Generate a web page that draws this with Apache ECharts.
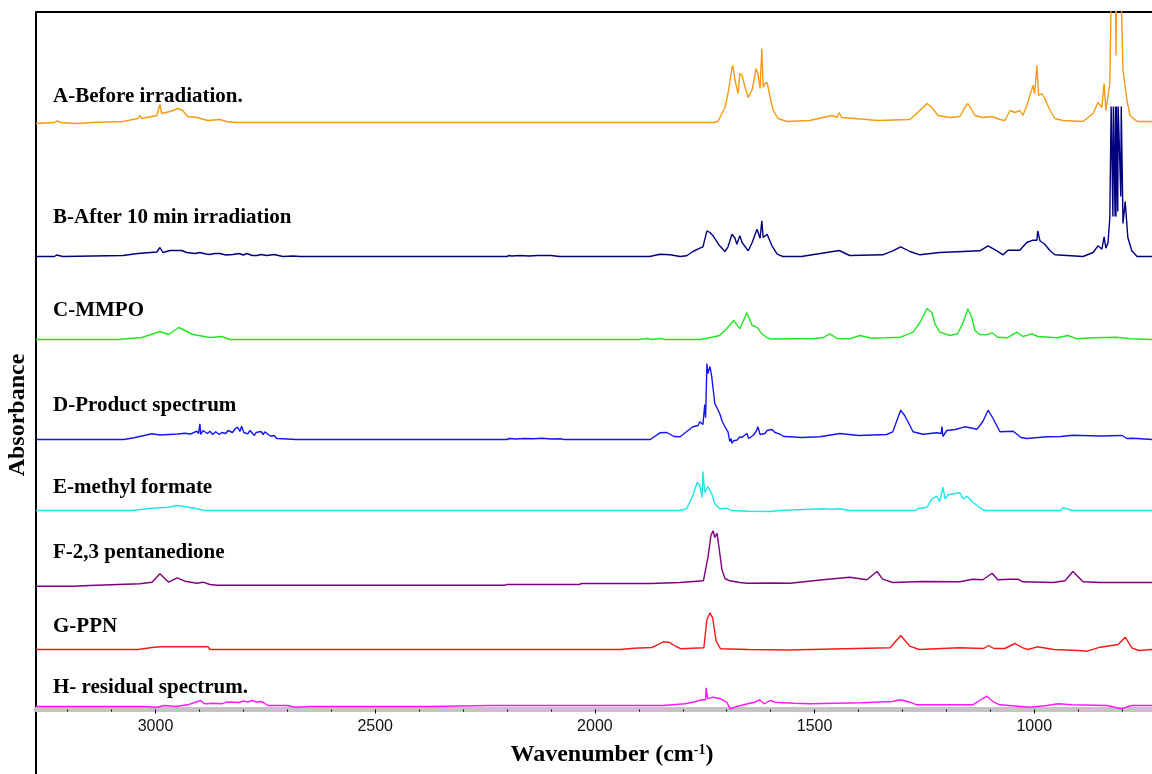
<!DOCTYPE html>
<html>
<head>
<meta charset="utf-8">
<script src="https://cdn.jsdelivr.net/npm/echarts@6/dist/echarts.min.js"></script>
<style>
html,body{margin:0;padding:0;background:#fff;}
#chart{width:1152px;height:774px;}
</style>
</head>
<body>
<div id="chart"></div>
<script>
// Series names (labels drawn on the chart)
const seriesNames = [
  'A-Before irradiation.',
  'B-After 10 min irradiation',
  'C-MMPO',
  'D-Product spectrum',
  'E-methyl formate',
  'F-2,3 pentanedione',
  'G-PPN',
  'H- residual spectrum.'
];
const seriesColors = ['#f59a11','#00007f','#1fe81f','#1515f0','#1ee6e6','#800080','#f41a1a','#ff17ff'];
// vertical stacking offsets (absorbance, arbitrary units)
const offsets = [587, 453, 370, 270, 199, 126, 60, 3];
// x tick labels
const majorTicks = [1000, 1500, 2000, 2500, 3000];
const minorTicks = [800,900,1100,1200,1300,1400,1600,1700,1800,1900,2100,2200,2300,2400,2600,2700,2800,2900,3100,3200];

// Spectra: [wavenumber, absorbance above baseline]
const specA = [[3272,-1],[3268,-1],[3230,0],[3225,1.5],[3215,0],[3185,-1],[3175,-1],[3143,0],[3074,1],[3040,4],[3036,7],[3031,4],[3020,5],[2997,7],[2994,7],[2990,18],[2986,9],[2967,11],[2949,14],[2938,12],[2927,6],[2906,5],[2881,2],[2854,3],[2838,1],[2819,0],[2400,0],[1874,0],[1730,0],
  [1720,1],[1704,15],[1697,29],[1688,54],[1686,57],[1681,42],[1677,44],[1674,29],[1670,49],[1665,47],[1658,35],[1651,25],[1642,33],[1633,54],[1629,49],[1624,34],[1620,74],[1617,35],[1613,39],[1608,40],[1601,25],[1594,12],[1583,4],[1563,1],[1511,2],[1481,5],[1460,7],[1449,5],[1444,10],[1438,5],[1381,3],[1358,2],[1283,3],[1265,10],[1244,19],[1233,15],[1219,7],[1192,5],[1169,6],[1158,15],[1151,19],[1144,14],[1135,7],[1117,5],[1096,6],[1078,3],[1067,2],[1055,12],[1044,10],[1033,12],[1026,7],[1017,17],[1005,34],[1003,37],[999,29],[994,57],[990,27],[983,29],[976,24],[964,12],[953,4],[935,2],[889,1],[866,9],[855,20],[846,15],[841,39],[837,12],[828,39],[823,180],[816,180],[814,67],[812,180],[805,180],[798,52],[789,22],[782,7],[766,1],[732,1]];

const specB = [[3272,0],[3230,0],[3225,1.5],[3211,0],[3074,1],[3040,3],[2997,4.5],[2990,9],[2983,4],[2967,6],[2940,6],[2929,4],[2910,3],[2899,4],[2885,2.5],[2876,2],[2865,3],[2854,3],[2840,1.5],[2824,2],[2810,3],[2800,1.5],[2792,3],[2780,1],[2769,1],[2760,2],[2747,1],[2730,2],[2710,0],[2687,0.5],[2671,0],[2200,0],[2195,1],[2190,0.5],[2170,1],[2150,0.5],[2130,1],[2100,1],[2080,0],
  [1875,0],[1852,2.3],[1829,1.7],[1806,0],[1791,0.7],[1777,5],[1761,8.3],[1754,9.7],[1745,25.7],[1738,24],[1734,25.7],[1731,20.7],[1727,20.7],[1716,10.7],[1704,5],[1697,9.7],[1688,22.3],[1681,18.3],[1677,12.3],[1670,20.7],[1665,14],[1651,5.7],[1642,14],[1631,27.3],[1624,18.3],[1620,35.7],[1617,19],[1608,22.3],[1597,10.7],[1585,2.3],[1572,0],[1530,0],[1444,6],[1420,1],[1345,1.7],[1322,5.7],[1304,9.7],[1283,5],[1260,1.7],[1215,4],[1162,5],[1124,5.7],[1105,10.7],[1085,5.7],[1071,1.7],[1060,6.3],[1033,6.3],[1017,14],[1003,16.3],[994,16.3],[992,25.7],[987,15.7],[976,12.3],[964,5.7],[953,1.7],[889,0],[866,4],[855,10.7],[846,7.3],[841,19.7],[837,8.3],[832,14],[828,39],
  [825,150],[822,150],[821,40],[820,150],[818,150],[816,40],[815,150],[814,40],[813,150],[811,150],[810,45],[809,150],[805,150],[803,60],[802,150],[799,150],[798,33],[793,55],[787,19],[778,5.7],[766,0],[732,0]];

const specC = [[3272,0],[3086,0],[3084,1],[3031,2],[2990,8],[2970,5],[2947,12],[2915,5],[2876,2],[2849,3],[2831,0],[1900,0],[1880,1],[1870,0],[1850,1],[1840,0],[1760,0],
  [1734,2.3],[1716,4],[1700,10.7],[1684,19],[1670,10.7],[1654,26.7],[1642,14],[1631,12.3],[1620,5.7],[1608,1.7],[1600,0.5],[1500,1],[1480,2],[1465,5.7],[1449,1],[1420,0.7],[1397,4],[1370,1.3],[1340,1.7],[1304,2.3],[1276,7.3],[1260,17],[1244,31],[1233,27],[1226,15.7],[1215,7.3],[1192,4],[1174,5.7],[1162,17],[1151,30.7],[1142,22],[1135,9],[1124,5],[1108,4.7],[1096,6.7],[1083,2.3],[1062,1.7],[1039,7.3],[1026,3],[1005,5.7],[992,3],[948,1.7],[923,4],[903,0.7],[866,1.7],[812,2.3],[782,0.7],[732,0]];

const specD = [[3272,0],[3072,0],[3070,0.5],[3049,1.7],[3008,5.7],[2990,4.5],[2970,5],[2950,5.5],[2933,6.3],[2920,5.5],[2906,8.3],[2902,6],[2899,15.7],[2897,5],[2892,9],[2888,10],[2882,6],[2876,8.3],[2870,5],[2863,7.7],[2855,5],[2849,7],[2840,6],[2835,9],[2831,10],[2825,7],[2818,11],[2813,12.3],[2808,8],[2804,13.3],[2799,7],[2795,6],[2790,5.7],[2785,9],[2781,11],[2775,4],[2771,7],[2767,5],[2760,8],[2755,5],[2751,7.7],[2744,5],[2737,3.3],[2730,4],[2724,1],[2710,0.7],[2680,0],[2200,0],[2195,1],[2180,0.5],[2160,1],[2140,0.7],[2120,1.2],[2100,0.5],[2079,0.7],[2070,0],
  [1874,0],[1852,6.7],[1836,7],[1820,3],[1806,2.7],[1777,12.7],[1765,14],[1761,17.7],[1754,15],[1750,35],[1748,21.7],[1745,76],[1743,66],[1738,73],[1734,62.7],[1727,36],[1716,26],[1710,18],[1704,12.7],[1697,7.7],[1693,-2],[1690,1],[1688,-4],[1684,-1],[1681,-3],[1677,-0.7],[1674,-2],[1670,2.7],[1665,2],[1660,4],[1654,6],[1650,1],[1647,2.7],[1640,4],[1633,8],[1629,12.7],[1624,5],[1620,3.3],[1613,6],[1608,9],[1597,10],[1590,7],[1579,5.3],[1570,3],[1556,2.7],[1530,2],[1488,2.7],[1442,6],[1400,4],[1336,5],[1322,7.7],[1304,29.3],[1295,24],[1283,14],[1276,7.7],[1253,5.3],[1222,6.7],[1212,6],[1210,13],[1208,3],[1199,9],[1180,10],[1158,12.7],[1130,10.3],[1117,18],[1105,29.3],[1095,22],[1078,7.7],[1048,8.3],[1030,2],[1017,1],[971,2.7],[940,3],[912,4.3],[850,3.5],[800,4],[789,1],[775,1.3],[732,0]];

const specE = [[3272,0],[3054,0],[3052,1.7],[3008,2.3],[2970,3.3],[2949,5],[2924,3.3],[2906,1.7],[2888,0],[1875,0],
  [1810,0],[1799,0.7],[1791,2],[1777,15],[1767,28.3],[1761,25],[1756,13],[1754,39],[1750,18],[1743,24],[1734,16.7],[1727,6.7],[1716,1.7],[1700,2.3],[1690,0],[1650,-0.7],[1600,-1],[1580,0],[1481,1.7],[1460,1.3],[1442,1.7],[1420,0],[1270,0],[1265,1.7],[1244,3.3],[1233,11.7],[1222,14.3],[1215,9],[1208,23.3],[1203,11.7],[1196,15.7],[1169,17.7],[1162,11.7],[1153,14.3],[1140,8.3],[1117,0.7],[1110,0],[940,0],[934,2.7],[920,1],[912,0],[732,0]];

const specF = [[3272,-2.7],[3188,-2.7],[3186,-1],[3150,-2],[3036,-0.3],[3008,1.3],[2990,9.7],[2970,1.3],[2951,5.7],[2933,2.3],[2906,0.3],[2892,1.3],[2876,-1],[2860,-1.7],[2205,-1.7],[2200,-1],[2036,-1],[2030,0],
  [1874,0],[1806,1],[1753,2.7],[1742,27.7],[1736,47.7],[1731,52.7],[1727,46],[1722,50.3],[1718,37.7],[1711,14.3],[1704,5],[1693,2.7],[1670,1],[1654,0.3],[1600,0.5],[1556,0.3],[1481,3.7],[1420,6.3],[1381,3.7],[1358,12],[1345,4.3],[1322,1],[1253,2],[1169,1.7],[1140,4.3],[1117,3.7],[1096,10.3],[1083,3.7],[1055,4.3],[1037,4.3],[1026,1.7],[957,1],[930,2.7],[912,12],[889,1.7],[850,1],[787,1],[785,2.7],[782,1],[732,1]];

const specG = [[3272,0],[3040,0],[3038,1.3],[3008,2],[2990,2.7],[2880,2.7],[2876,0],[1943,0],[1940,-0.5],[1911,1.3],[1870,2],[1859,4.3],[1845,7.5],[1832,7.3],[1815,3],[1804,0.7],
  [1752,1.7],[1745,30],[1738,36.7],[1732,31.7],[1724,8.3],[1714,0.7],[1650,0],[1560,-0.5],[1328,1.7],[1304,14],[1283,3.3],[1262,0],[1171,1.7],[1115,1],[1104,4],[1092,1],[1067,1],[1044,6],[1026,1.7],[1014,0],[993,2.7],[955,0],[900,-1],[880,-1.7],[850,2.3],[809,5],[793,12.3],[778,1.7],[762,-1],[732,0]];

const specH = [[3272,0],[3030,0],[3027,1],[2997,-0.7],[2979,1],[2954,0],[2927,1.7],[2897,6],[2890,3],[2883,2.7],[2870,3.3],[2850,2.7],[2838,4.3],[2830,4.5],[2810,4],[2800,5.5],[2790,4.5],[2780,6],[2770,4.5],[2760,5],[2753,3.5],[2744,1],[2700,1],[2683,-0.7],[2649,0],[2373,0],[2370,1],[2239,1],[2235,0],[2230,1],
  [1845,1],[1795,2.7],[1777,4.3],[1756,6.7],[1748,6.7],[1747,18.7],[1743,7.7],[1732,9.3],[1714,7.7],[1700,4.3],[1692,-2.3],[1677,0],[1652,2.7],[1636,4.3],[1625,6.7],[1615,2.7],[1601,6],[1590,4.3],[1547,3.3],[1511,2.7],[1394,3.7],[1324,5],[1304,6.7],[1283,4.3],[1267,1.7],[1140,1.7],[1124,6],[1108,10.3],[1092,4.3],[1078,1.7],[1010,-0.7],[971,1],[946,2.7],[914,1.7],[834,1],[803,-2.3],[778,1],[732,1]];

const spectra = [specA, specB, specC, specD, specE, specF, specG, specH];
// label vertical centers (pixel rows of the picture)
const labelY = [97, 218, 311, 406, 488, 553, 627, 688];

const chart = echarts.init(document.getElementById('chart'), null, {renderer: 'canvas'});

const series = spectra.map((s, i) => ({
  name: seriesNames[i],
  type: 'line',
  xAxisIndex: 0,
  yAxisIndex: 0,
  data: s.map(p => [p[0], p[1] + offsets[i]]),
  showSymbol: false,
  symbol: 'none',
  clip: true,
  silent: true,
  lineStyle: {color: seriesColors[i], width: 1.4},
  z: 10 - i
}));

const serif = '"Liberation Serif", "Times New Roman", serif';

const option = {
  animation: false,
  backgroundColor: '#fff',
  grid: {left: 36, right: 0, top: 12, bottom: 64.5, containLabel: false},
  xAxis: [
    {
      type: 'value', inverse: true, min: 732, max: 3272, position: 'bottom',
      axisLine: {show: true, lineStyle: {color: '#c4c4c4', width: 5}},
      axisTick: {show: true, customValues: majorTicks, length: 4, lineStyle: {color: '#000', width: 1}},
      axisLabel: {show: true, customValues: majorTicks, margin: 9, color: '#111', fontSize: 16,
        fontFamily: '"Liberation Sans", Arial, sans-serif', formatter: v => String(v)},
      splitLine: {show: false}
    },
    {
      type: 'value', inverse: true, min: 732, max: 3272, position: 'bottom',
      axisLine: {show: false},
      axisTick: {show: true, customValues: minorTicks, length: 2, lineStyle: {color: '#000', width: 1}},
      axisLabel: {show: false},
      splitLine: {show: false}
    },
    {
      type: 'value', inverse: true, min: 732, max: 3272, position: 'top',
      axisLine: {show: true, lineStyle: {color: '#000', width: 2}},
      axisTick: {show: false}, axisLabel: {show: false}, splitLine: {show: false}
    }
  ],
  yAxis: {
    type: 'value', min: 0, max: 697.5,
    axisLine: {show: true, lineStyle: {color: '#000', width: 2}},
    axisTick: {show: false}, axisLabel: {show: false}, splitLine: {show: false}
  },
  series: series,
  graphic: [
    {type: 'line', shape: {x1: 36, y1: 709, x2: 36, y2: 774}, style: {stroke: '#000', lineWidth: 2}, silent: true},
    {type: 'text', x: 18, y: 415, rotation: Math.PI / 2,
      style: {text: 'Absorbance', font: 'bold 24px ' + serif, fill: '#000', textAlign: 'center', textVerticalAlign: 'middle'}},
    {type: 'text', x: 612, y: 755,
      style: {text: 'Wavenumber (cm{sup|-1})', font: 'bold 24px ' + serif, fill: '#000', textAlign: 'center', textVerticalAlign: 'middle',
        rich: {sup: {fontSize: 14, fontWeight: 'bold', fontFamily: serif, verticalAlign: 'top', padding: [0, 0, 10, 0]}}}}
  ].concat(seriesNames.map((n, i) => ({
    type: 'text', x: 53, y: labelY[i],
    style: {text: n, font: 'bold 21px ' + serif, fill: '#000', textAlign: 'left', textVerticalAlign: 'middle'}
  })))
};
chart.setOption(option);
</script>
</body>
</html>
